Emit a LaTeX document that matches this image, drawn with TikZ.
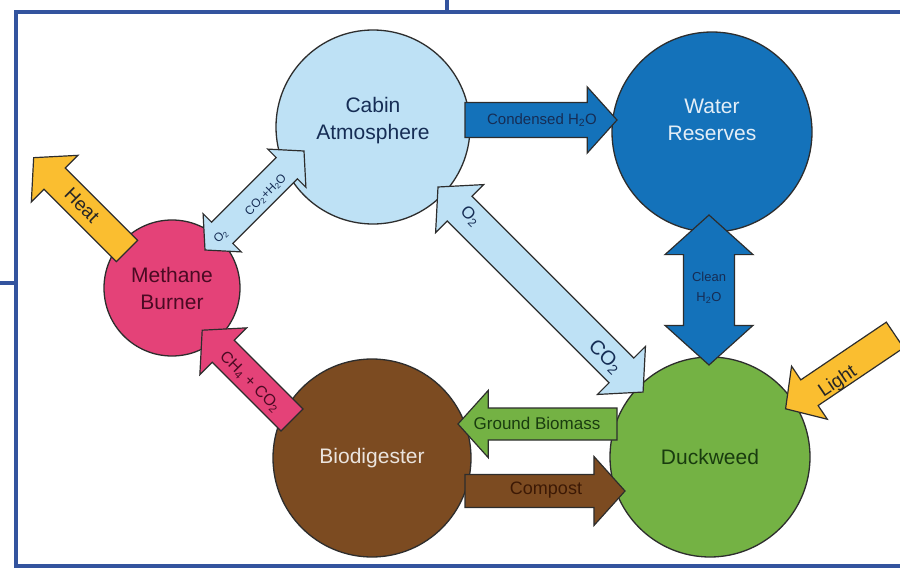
\documentclass[tikz,border=0pt]{standalone}
\usepackage{fontspec}
\setmainfont{Liberation Sans}

\definecolor{framecol}{RGB}{51,84,158}
\definecolor{cabincol}{RGB}{190,225,245}
\definecolor{watercol}{RGB}{20,114,186}
\definecolor{methanecol}{RGB}{228,66,120}
\definecolor{biocol}{RGB}{124,75,33}
\definecolor{duckcol}{RGB}{116,178,68}
\definecolor{sunyellow}{RGB}{250,190,48}
\definecolor{edgecol}{RGB}{45,45,45}
\definecolor{navytext}{RGB}{22,45,85}
\definecolor{greentext}{RGB}{25,60,15}
\definecolor{browntext}{RGB}{60,25,5}
\definecolor{redtext}{RGB}{75,10,35}

% block arrow: style, tail, angle, length, shaft width, head width
\newcommand{\onearrow}[6]{%
  \begin{scope}[shift={#2},rotate=#3]
    \draw[#1] (0,-#5/2) -- (#4-0.45*#6,-#5/2) -- (#4-0.45*#6,-#6/2) -- (#4,0)
      -- (#4-0.45*#6,#6/2) -- (#4-0.45*#6,#5/2) -- (0,#5/2) -- cycle;
  \end{scope}}
% double block arrow: style, start, angle, length, shaft width, head width
\newcommand{\twoarrow}[6]{%
  \begin{scope}[shift={#2},rotate=#3]
    \draw[#1] (0,0) -- (0.45*#6,-#6/2) -- (0.45*#6,-#5/2) -- (#4-0.45*#6,-#5/2)
      -- (#4-0.45*#6,-#6/2) -- (#4,0) -- (#4-0.45*#6,#6/2) -- (#4-0.45*#6,#5/2)
      -- (0.45*#6,#5/2) -- (0.45*#6,#6/2) -- cycle;
  \end{scope}}

\begin{document}
\begin{tikzpicture}[x=1pt, y=-1pt,
    circ/.style={circle, draw=edgecol, line width=1.3pt, inner sep=0pt, align=center,
      font=\fontsize{21}{27}\selectfont},
    flow/.style={draw=edgecol, line width=1.2pt, line join=miter},
    lbl/.style={inner sep=0pt, align=center, font=\fontsize{16}{19}\selectfont}]
    \useasboundingbox (0,0) rectangle (900,570);

    % Frame
    \draw[framecol, line width=4pt] (900,12) -- (16,12) -- (16,566) -- (900,566);
    \draw[framecol, line width=4pt] (447,0) -- (447,12);
    \draw[framecol, line width=4pt] (0,283) -- (16,283);

    % Compartments
    \node[circ, fill=cabincol, minimum size=194pt, text=navytext, text depth=18pt] (cabin) at (373,127) {Cabin\\Atmosphere};
    \node[circ, fill=watercol, minimum size=200pt, text=white!88!watercol, text depth=24pt] (water) at (712,132) {Water\\Reserves};
    \node[circ, fill=methanecol, minimum size=136pt, text=redtext] (burner) at (172,288) {Methane\\Burner};
    \node[circ, fill=biocol, minimum size=198pt, text=white!85!biocol] (digester) at (372,458) {Biodigester};
    \node[circ, fill=duckcol, minimum size=200pt, text=greentext] (duckweed) at (710,457) {Duckweed};

    % Flows
    \onearrow{flow, fill=watercol}{(465,120)}{0}{152}{35}{66}
    \onearrow{flow, fill=duckcol}{(617,424)}{180}{159}{32}{67}
    \onearrow{flow, fill=biocol}{(465,491)}{0}{160}{33}{69}
    \onearrow{flow, fill=methanecol}{(292,420)}{135}{127}{31}{66}
    \onearrow{flow, fill=sunyellow}{(127,251)}{135}{132}{30}{66}
    \onearrow{flow, fill=sunyellow}{(895,335)}{214}{132}{31}{64}
    \twoarrow{flow, fill=watercol}{(709,365)}{90}{150}{51}{88}
    \twoarrow{flow, fill=cabincol}{(205,250)}{45}{140}{30}{54}
    \twoarrow{flow, fill=cabincol}{(438,187)}{-45}{290}{35}{68}

    % Flow labels
    \node[lbl, text=navytext, font=\fontsize{15}{18}\selectfont] (condlbl) at (542,120) {Condensed H\textsubscript{2}O};
    \node[lbl, text=greentext, font=\fontsize{17}{20}\selectfont] (biomasslbl) at (537,423) {Ground Biomass};
    \node[lbl, text=browntext, font=\fontsize{18}{20}\selectfont] (compostlbl) at (546,490) {Compost};
    \node[lbl, text=navytext, font=\fontsize{13}{20}\selectfont] (cleanlbl) at (709,288) {Clean\\H\textsubscript{2}O};
    \node[lbl, text=redtext, rotate=-45] (ch4lbl) at (250,382) {CH\textsubscript{4} + CO\textsubscript{2}};
    \node[lbl, text=black!85, rotate=-45, font=\fontsize{19}{20}\selectfont] (heatlbl) at (82,205) {Heat};
    \node[lbl, text=black!85, rotate=34, font=\fontsize{19}{20}\selectfont] (lightlbl) at (838,382) {Light};
    \node[lbl, text=navytext, rotate=45, font=\fontsize{12}{14}\selectfont] (mixlbl) at (266,195) {CO\textsubscript{2}+H\textsubscript{2}O};
    \node[lbl, text=navytext, rotate=45, font=\fontsize{12}{14}\selectfont] (burnerolbl) at (221,236) {O\textsubscript{2}};
    \node[lbl, text=navytext, rotate=-45, font=\fontsize{17}{20}\selectfont] (cabinolbl) at (470,216) {O\textsubscript{2}};
    \node[lbl, text=navytext, rotate=-45, font=\fontsize{20}{22}\selectfont] (duckco2lbl) at (605,357) {CO\textsubscript{2}};
\end{tikzpicture}
\end{document}
